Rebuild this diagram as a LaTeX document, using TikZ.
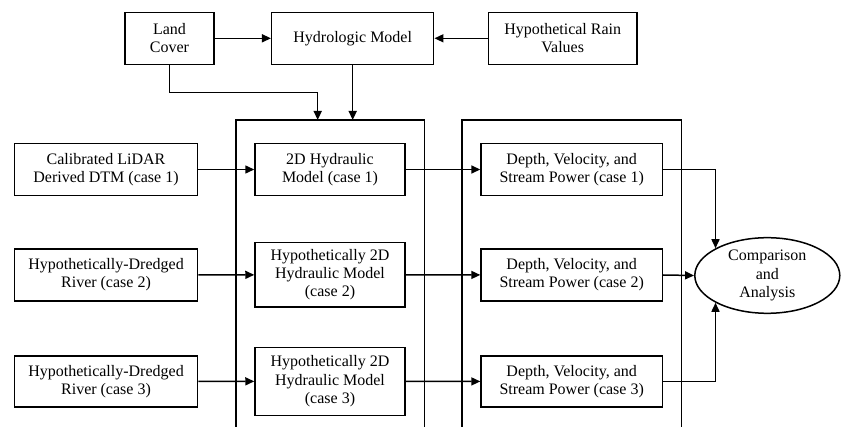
\documentclass[tikz,border=0pt]{standalone}
\usepackage{fontspec}
\setmainfont{Liberation Serif}
\newfontfamily\tmsfont{Liberation Serif}
\usetikzlibrary{arrows.meta,shapes.geometric}
\begin{document}
\begin{tikzpicture}[x=1pt,y=-1pt,
  every node/.style={font=\tmsfont\fontsize{16}{18.3}\selectfont},
  box/.style={draw,line width=1.5pt,inner sep=0pt,align=center},
  conn/.style={line width=1.5pt},
  arr/.style={conn,-{Triangle[length=9pt,width=8pt]}}]
\useasboundingbox (0,0) rectangle (841,427);
% containers
\coordinate (c1bl) at (236,430);
\coordinate (c1tl) at (236,120);
\coordinate (c1tr) at (424.3,120);
\coordinate (c1br) at (424.3,430);
\coordinate (c2bl) at (462,430);
\coordinate (c2tl) at (462,120);
\coordinate (c2tr) at (681.7,120);
\coordinate (c2br) at (681.7,430);
\draw[conn] (c1bl) -- (c1tl) -- (c1tr) -- (c1br);
\draw[conn] (c2bl) -- (c2tl) -- (c2tr) -- (c2br);
% top row
\node[box,minimum width=89pt,minimum height=52pt] (land) at (169.5,38.3) {Land\\Cover};
\node[box,minimum width=162pt,minimum height=52pt] (hydro) at (352.7,38.3) {Hydrologic Model};
\node[box,minimum width=148.7pt,minimum height=52pt] (rain) at (562.7,38.3) {Hypothetical Rain\\Values};
% left column
\node[box,minimum width=183.4pt,minimum height=52.4pt] (cal) at (106,169.5) {Calibrated LiDAR\\Derived DTM (case 1)};
\node[box,minimum width=183.4pt,minimum height=52pt] (dr2) at (106,275) {Hypothetically-Dredged\\River (case 2)};
\node[box,minimum width=183.4pt,minimum height=51.3pt] (dr3) at (106,381.5) {Hypothetically-Dredged\\River (case 3)};
% hydraulic models
\node[box,minimum width=150pt,minimum height=52.4pt] (h1) at (330,169.5) {2D Hydraulic\\Model (case 1)};
\node[box,minimum width=150pt,minimum height=64.3pt] (h2) at (330,274.8) {Hypothetically 2D\\Hydraulic Model\\(case 2)};
\node[box,minimum width=150pt,minimum height=68pt] (h3) at (330,381.3) {Hypothetically 2D\\Hydraulic Model\\(case 3)};
% outputs
\node[box,minimum width=181.3pt,minimum height=52.4pt] (d1) at (571.7,169.5) {Depth, Velocity, and\\Stream Power (case 1)};
\node[box,minimum width=181.3pt,minimum height=52pt] (d2) at (571.7,275) {Depth, Velocity, and\\Stream Power (case 2)};
\node[box,minimum width=181.3pt,minimum height=51.3pt] (d3) at (571.7,381.5) {Depth, Velocity, and\\Stream Power (case 3)};
% ellipse
\node[box,ellipse,minimum width=145pt,minimum height=75.6pt] (ell) at (767.3,275.5) {Comparison\\and\\Analysis};
% connectors
\draw[arr] (land) -- (hydro);
\draw[arr] (rain) -- (hydro);
\coordinate (lk) at (317.7,92.3);
\draw[arr] (land.south) |- (lk) -- (lk |- c1tl);
\draw[arr] (hydro.south) -- (hydro.south |- c1tl);
\draw[arr] (cal) -- (h1);
\draw[arr] (dr2) -- (h2);
\draw[arr] (dr3) -- (h3);
\draw[arr] (h1) -- (d1);
\draw[arr] (h2) -- (d2);
\draw[arr] (h3) -- (d3);
\draw[arr] (d1.east) -| (ell.north west);
\draw[arr] (d2.east) -- (ell.west);
\draw[arr] (d3.east) -| (ell.south west);
\end{tikzpicture}
\end{document}
